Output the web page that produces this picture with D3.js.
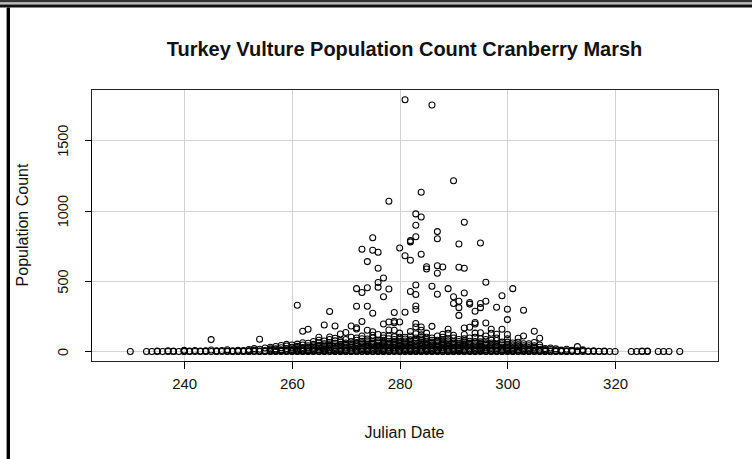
<!DOCTYPE html>
<html>
<head>
<meta charset="utf-8">
<script src="https://cdn.jsdelivr.net/npm/d3@7"></script>
<style>
  html, body { margin: 0; padding: 0; background: #fff; }
  svg { display: block; }
  text { font-family: "Liberation Sans", Arial, sans-serif; fill: #111; }
</style>
</head>
<body>
<script>
// Daily turkey vulture counts at Cranberry Marsh, grouped by Julian date
const julianDays = [
  230, 233, 234, 235, 236, 237, 238, 239, 240, 241, 242, 243, 244, 245, 246, 247, 248, 249,
  250, 251, 252, 253, 254, 255, 256, 257, 258, 259, 260, 261, 262, 263, 264, 265, 266, 267,
  268, 269, 270, 271, 272, 273, 274, 275, 276, 277, 278, 279, 280, 281, 282, 283, 284, 285,
  286, 287, 288, 289, 290, 291, 292, 293, 294, 295, 296, 297, 298, 299, 300, 301, 302, 303,
  304, 305, 306, 307, 308, 309, 310, 311, 312, 313, 314, 315, 316, 317, 318, 319, 320, 323,
  324, 325, 326, 328, 329, 330, 332
];
const countsByDay = [
  [0], [0], [0], [0, 3], [0], [0, 5], [0, 2], [0], [0, 4, 8, 1], [0, 2], [0, 6], [0, 3], [0, 5, 1],
  [0, 84, 10], [0, 4, 1], [0, 7], [0, 3, 12], [0, 5, 1],
  [0, 2, 9], [0, 6, 1], [0, 4, 14, 2], [0, 8, 20, 1], [0, 86, 3, 15, 1], [0, 6, 24, 2],
  [0, 10, 30, 4, 1, 18],
  [0, 5, 18, 35, 2, 10], [0, 12, 26, 42, 3, 6], [0, 3, 20, 38, 50, 1, 10], [0, 8, 24, 45, 30, 2, 14],
  [0, 328, 5, 18, 36, 52, 2, 10, 28], [0, 143, 10, 28, 46, 62, 1, 4, 18],
  [0, 158, 4, 22, 40, 58, 2, 12, 30],
  [0, 12, 30, 50, 70, 3, 6, 20, 40], [0, 101, 8, 25, 44, 62, 80, 1, 14, 34],
  [0, 188, 74, 5, 18, 35, 55, 2, 10, 26, 45],
  [0, 283, 103, 10, 26, 48, 64, 3, 16, 36, 85],
  [0, 181, 94, 4, 20, 38, 58, 75, 1, 12, 28], [0, 124, 78, 12, 30, 50, 66, 2, 6, 20, 40],
  [0, 134, 6, 22, 40, 60, 85, 2, 12, 30, 50],
  [0, 181, 15, 32, 52, 70, 100, 1, 6, 24, 42], [0, 446, 321, 168, 160, 95, 8, 25, 45, 64, 80, 2, 16, 35, 55],
  [0, 726, 418, 212, 12, 30, 52, 72, 110, 3, 20, 40, 62, 90],
  [0, 638, 453, 321, 150, 5, 20, 40, 62, 88, 1, 12, 30, 50, 75],
  [0, 808, 719, 271, 140, 10, 28, 50, 70, 95, 2, 18, 38, 60, 115],
  [0, 704, 591, 489, 456, 4, 18, 36, 58, 80, 120, 1, 10, 26, 46, 68],
  [0, 522, 389, 195, 113, 80, 12, 30, 48, 66, 2, 6, 20, 38, 56, 95],
  [0, 1067, 444, 209, 152, 70, 6, 22, 40, 58, 90, 1, 14, 30, 48, 110],
  [0, 276, 214, 204, 150, 70, 15, 32, 50, 105, 3, 8, 24, 42, 60, 85],
  [0, 735, 209, 8, 25, 45, 62, 85, 130, 2, 16, 35, 54, 72, 100],
  [0, 1788, 680, 278, 12, 30, 52, 74, 100, 1, 6, 20, 40, 62, 88],
  [0, 787, 778, 648, 425, 141, 5, 20, 40, 60, 82, 2, 12, 30, 50, 70, 110],
  [0, 977, 896, 815, 472, 404, 322, 298, 198, 174, 10, 28, 48, 70, 95, 1, 4, 18, 38, 58, 80, 125],
  [0, 1131, 955, 690, 174, 150, 119, 6, 22, 42, 64, 88, 2, 14, 32, 52, 76, 100],
  [0, 602, 586, 12, 30, 50, 72, 100, 3, 6, 20, 40, 60, 85, 130],
  [0, 1751, 463, 178, 4, 18, 38, 56, 80, 1, 10, 28, 46, 66, 95],
  [0, 851, 801, 609, 555, 406, 10, 26, 46, 68, 110, 2, 5, 16, 36, 56, 80],
  [0, 600, 122, 8, 24, 44, 62, 85, 1, 14, 32, 52, 72, 100],
  [0, 446, 158, 129, 14, 32, 52, 75, 2, 6, 22, 42, 62, 90],
  [0, 1213, 389, 340, 5, 20, 40, 60, 95, 1, 12, 30, 50, 70, 115],
  [0, 763, 598, 357, 311, 256, 12, 28, 48, 70, 3, 6, 20, 38, 58, 85],
  [0, 918, 591, 415, 166, 6, 22, 44, 66, 90, 1, 12, 32, 54, 76, 120],
  [0, 347, 336, 172, 10, 30, 50, 72, 2, 5, 18, 40, 60, 95],
  [0, 285, 206, 195, 4, 18, 38, 58, 100, 1, 10, 28, 48, 70, 130],
  [0, 770, 340, 311, 132, 12, 28, 46, 68, 3, 6, 20, 36, 56, 90],
  [0, 491, 357, 202, 8, 24, 42, 62, 85, 1, 14, 32, 52, 110],
  [0, 158, 129, 5, 20, 40, 60, 2, 10, 30, 50, 80],
  [0, 314, 122, 10, 30, 50, 78, 1, 4, 20, 40, 95],
  [0, 396, 158, 6, 22, 44, 66, 2, 12, 32, 54],
  [0, 300, 226, 120, 12, 28, 48, 90, 3, 6, 20, 38, 66],
  [0, 446, 4, 18, 38, 60, 1, 10, 28, 48], [0, 94, 8, 25, 45, 2, 14, 34, 65],
  [0, 293, 110, 5, 20, 40, 1, 12, 30, 55],
  [0, 10, 28, 55, 2, 5, 18, 40], [0, 143, 63, 6, 22, 40, 1, 12, 30], [0, 94, 4, 15, 30, 2, 8, 45],
  [0, 8, 20, 2, 12], [0, 3, 14, 1, 25],
  [0, 6, 18, 2], [0, 2, 10, 4], [0, 5, 15, 1], [0, 3, 8], [0, 34, 4, 1], [0, 6, 12], [0, 2], [0, 4], [0, 1],
  [0, 2], [0], [0], [0],
  [0], [0, 2], [0, 3], [0], [0], [0], [0]
];

// Axis limits and tick marks
const xLimits = [222.7, 339.1];
const yLimits = [-68, 1864];
const xTicks = [240, 260, 280, 300, 320];
const yTicks = [0, 500, 1000, 1500];

const titleText = "Turkey Vulture Population Count Cranberry Marsh";
const xLabel = "Julian Date";
const yLabel = "Population Count";

const W = 752, H = 459;
const plot = { left: 91, right: 718, top: 89, bottom: 361 };

const points = [];
julianDays.forEach((d, i) => countsByDay[i].forEach(c => points.push({ day: d, count: c })));

const svg = d3.select("body").append("svg").attr("width", W).attr("height", H);

// window frame around the figure
svg.append("rect").attr("x", 0).attr("y", 0).attr("width", W).attr("height", 2.5).attr("fill", "#333");
svg.append("rect").attr("x", 0).attr("y", 2.5).attr("width", W).attr("height", 2).attr("fill", "#bbb");
svg.append("rect").attr("x", 0).attr("y", 4.5).attr("width", W).attr("height", 3).attr("fill", "#111");
svg.append("rect").attr("x", 6).attr("y", 7.5).attr("width", 1).attr("height", H).attr("fill", "#999");
svg.append("rect").attr("x", 7).attr("y", 7.5).attr("width", 3).attr("height", H).attr("fill", "#000");

const x = d3.scaleLinear().domain(xLimits).range([plot.left, plot.right]);
const y = d3.scaleLinear().domain(yLimits).range([plot.bottom, plot.top]);

// grid
const grid = svg.append("g").attr("stroke", "#d3d3d3").attr("stroke-width", 1).attr("shape-rendering", "crispEdges");
grid.selectAll("line.v").data(xTicks).join("line")
  .attr("x1", d => Math.round(x(d)) + 0.5).attr("x2", d => Math.round(x(d)) + 0.5)
  .attr("y1", plot.top).attr("y2", plot.bottom);
grid.selectAll("line.h").data(yTicks).join("line")
  .attr("y1", d => Math.round(y(d)) + 0.5).attr("y2", d => Math.round(y(d)) + 0.5)
  .attr("x1", plot.left).attr("x2", plot.right);

// points
svg.append("g").selectAll("circle").data(points).join("circle")
  .attr("cx", d => x(d.day)).attr("cy", d => y(d.count)).attr("r", 3)
  .attr("fill", "none").attr("stroke", "#000").attr("stroke-width", 1.05);

// plot box
svg.append("rect")
  .attr("x", plot.left + 0.5).attr("y", plot.top + 0.5)
  .attr("width", plot.right - plot.left).attr("height", plot.bottom - plot.top)
  .attr("fill", "none").attr("stroke", "#222").attr("stroke-width", 1).attr("shape-rendering", "crispEdges");

// axes
const xAxis = d3.axisBottom(x).tickValues(xTicks).tickSize(7).tickPadding(10).tickFormat(d3.format("d"));
const gx = svg.append("g").attr("transform", `translate(0,${plot.bottom + 0.5})`).call(xAxis);
gx.select(".domain").attr("d", `M${x(xTicks[0])},0H${x(xTicks[xTicks.length - 1])}`);
gx.selectAll("text").attr("font-size", 15).attr("font-family", "Liberation Sans, Arial, sans-serif").attr("fill", "#111");

const yAxis = d3.axisLeft(y).tickValues(yTicks).tickSize(7).tickPadding(0).tickFormat(d3.format("d"));
const gy = svg.append("g").attr("transform", `translate(${plot.left + 0.5},0)`).call(yAxis);
gy.select(".domain").attr("d", `M0,${y(yTicks[0])}V${y(yTicks[yTicks.length - 1])}`);
gy.selectAll(".tick line").attr("shape-rendering", "crispEdges");
gx.selectAll(".tick line").attr("shape-rendering", "crispEdges");
gy.selectAll("text")
  .attr("font-size", 14.5).attr("font-family", "Liberation Sans, Arial, sans-serif").attr("fill", "#111")
  .attr("x", null).attr("dy", null)
  .attr("text-anchor", "middle")
  .attr("transform", "translate(-24,0) rotate(-90)");

// titles
svg.append("text").attr("x", (plot.left + plot.right) / 2).attr("y", 56)
  .attr("text-anchor", "middle").attr("font-size", 20).attr("font-weight", "bold").text(titleText);
svg.append("text").attr("x", (plot.left + plot.right) / 2).attr("y", 438)
  .attr("text-anchor", "middle").attr("font-size", 16).text(xLabel);
svg.append("text").attr("transform", `translate(28,${(plot.top + plot.bottom) / 2}) rotate(-90)`)
  .attr("text-anchor", "middle").attr("font-size", 16).text(yLabel);
</script>
</body>
</html>
